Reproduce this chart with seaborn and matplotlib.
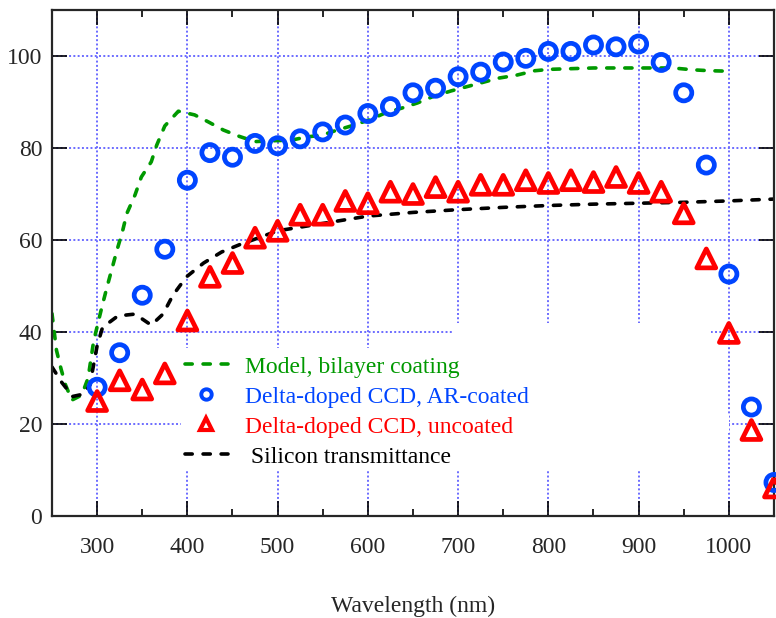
import numpy as np
import pandas as pd
import seaborn as sns
import matplotlib.pyplot as plt
from matplotlib.lines import Line2D
from matplotlib.patches import Rectangle

# 数据
wl_pts = [300, 325, 350, 375, 400, 425, 450, 475, 500, 525, 550, 575, 600, 625, 650,
          675, 700, 725, 750, 775, 800, 825, 850, 875, 900, 925, 950, 975, 1000, 1025, 1050]
ar_coated = [28, 35.5, 48, 58, 73, 79, 78, 81, 80.5, 82, 83.5, 85, 87.5, 89, 92,
             93, 95.5, 96.5, 98.7, 99.5, 101, 101, 102.4, 102, 102.6, 98.6, 92, 76.3, 52.6, 23.7, 7.3]
uncoated = [25, 29.5, 27.5, 31, 42.5, 52, 55, 60.5, 62, 65.5, 65.5, 68.5, 68, 70.5, 70,
            71.5, 70.5, 72, 72, 73, 72.4, 73, 72.6, 73.7, 72.4, 70.5, 65.8, 56, 39.8, 18.7, 6.2]

model_wl = [250, 255, 260, 265, 272, 283, 290, 296, 301, 306, 311, 322, 328, 333, 342,
            349, 360, 366, 375, 390, 408, 423, 440, 458, 475, 497, 515, 532, 549, 566,
            585, 604, 619, 638, 655, 671, 692, 709, 728, 745, 764, 785, 801, 850, 900,
            938, 960, 979, 1000]
model_qe = [44, 36, 32, 28.5, 25.2, 26.3, 30, 37.8, 42, 46, 49.8, 57.8, 61.8, 65.8, 69.8,
            73.7, 77, 80.6, 84.8, 88, 87.2, 85.7, 83.9, 82.5, 81.4, 81.6, 81.7, 82.4, 82.8, 83.9,
            85, 86.3, 87.6, 88.7, 89.8, 91.1, 92.4, 93.3, 94.3, 95.2, 95.8, 96.8, 97.1, 97.4, 97.4,
            97.4, 97, 96.8, 96.7]

si_wl = [250, 261, 273, 285, 292, 300, 306, 323, 342, 360, 373, 384, 399, 418, 438,
         458, 475, 500, 525, 550, 600, 650, 700, 750, 800, 850, 900, 950, 1000, 1050]
si_trans = [32.4, 29, 26, 26.5, 28.5, 37, 41, 43.5, 43.9, 41.5, 43.9, 48, 52, 55, 57.4,
            59, 60.2, 62, 62.8, 63.6, 65.2, 66, 66.6, 67.1, 67.5, 67.8, 68, 68.2, 68.5, 68.9]

labels = ["Model, bilayer coating", "Delta-doped CCD, AR-coated",
          "Delta-doped CCD, uncoated", " Silicon transmittance"]

green = "#009900"
blue = "#0045ff"
red = "#ff0000"
grid_col = "#6b6bff"

sns.set_style("ticks")
plt.rcParams['font.family'] = ['Liberation Serif', 'DejaVu Serif']

fig = plt.figure(figsize=(7.76, 6.18), dpi=100)
ax = fig.add_axes([0.067, 0.165, 0.9304, 0.8188])

dash = (0, (2.0, 3.0))
sns.lineplot(x=model_wl, y=model_qe, ax=ax, color=green, lw=2.6, linestyle=dash,
             dash_capstyle='round', zorder=2)
sns.lineplot(x=si_wl, y=si_trans, ax=ax, color='black', lw=2.6, linestyle=dash,
             dash_capstyle='round', zorder=2)
sns.scatterplot(x=wl_pts, y=ar_coated, ax=ax, marker='o', s=135, facecolor='none',
                edgecolor=blue, linewidth=3.4, zorder=3, clip_on=False)
sns.scatterplot(x=wl_pts, y=uncoated, ax=ax, marker='^', s=185, facecolor='none',
                edgecolor=red, linewidth=3.4, zorder=3, clip_on=False)

ax.set_xlim(250, 1050)
ax.set_ylim(0, 110)
ax.set_xticks(np.arange(300, 1001, 100))
ax.set_xticks(np.arange(250, 1051, 50), minor=True)
ax.set_yticks(np.arange(0, 101, 20))

ax.set_axisbelow(True)
ax.grid(True, which='major', color=grid_col, linestyle=(0, (1, 1.2)), linewidth=1.4)

# 图例遮挡网格的白色区域
ax.add_patch(Rectangle((392.7, 9.8), 979.8 - 392.7, 36.5 - 9.8, facecolor='white',
                       edgecolor='none', zorder=1))
ax.add_patch(Rectangle((693.4, 36.5), 979.8 - 693.4, 42.0 - 36.5, facecolor='white',
                       edgecolor='none', zorder=1))
ax.add_patch(Rectangle((979.8, 18), 1000 - 979.8, 4, facecolor='white',
                       edgecolor='none', zorder=1))

ax.tick_params(which='both', direction='in', top=True, right=True, width=1.2,
               labelsize=17, color='black')
ax.tick_params(which='major', length=11)
ax.tick_params(which='minor', length=5)
ax.tick_params(axis='x', pad=15)
ax.tick_params(axis='y', pad=7)
for sp in ax.spines.values():
    sp.set_linewidth(1.6)
    sp.set_visible(True)

ax.set_xlabel("Wavelength (nm)", fontsize=17, labelpad=27)
ax.set_ylabel("")

handles = [
    Line2D([], [], color=green, lw=2.6, linestyle=dash, dash_capstyle='round'),
    Line2D([], [], ls='none', marker='o', ms=7.5, mfc='none', mec=blue, mew=2.8),
    Line2D([], [], ls='none', marker='^', ms=8.5, mfc='none', mec=red, mew=3.0),
    Line2D([], [], color='black', lw=2.6, linestyle=dash, dash_capstyle='round'),
]
leg = ax.legend(handles, labels, loc='upper left', bbox_to_anchor=(0.184, 0.316),
                frameon=False, fontsize=17, handlelength=1.82, handletextpad=0.72,
                labelspacing=0.36, borderpad=0, borderaxespad=0)
leg.set_zorder(5)
for txt, c in zip(leg.get_texts(), [green, blue, red, 'black']):
    txt.set_color(c)

fig.savefig("out.png", dpi=100)
